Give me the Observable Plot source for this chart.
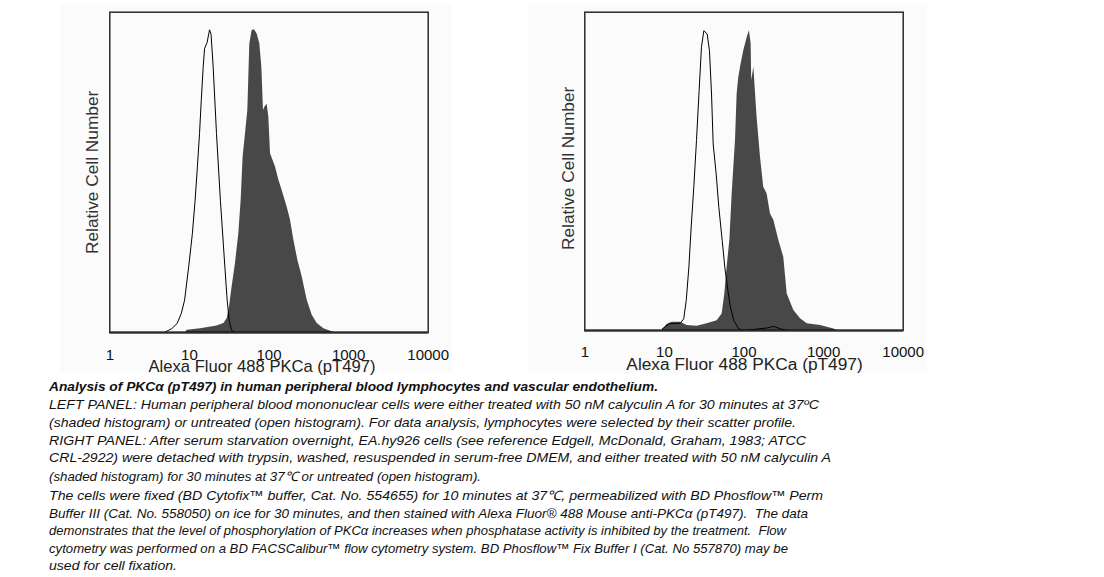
<!DOCTYPE html>
<html>
<head>
<meta charset="utf-8">
<script src="https://cdn.jsdelivr.net/npm/d3@7"></script>
<script src="https://cdn.jsdelivr.net/npm/@observablehq/plot@0.6"></script>
<style>
  body { margin: 0; background: #fff; }
  #wrap { position: relative; width: 1104px; height: 577px; overflow: hidden; background: #fff; }
  #left, #right { position: absolute; }
  #left { left: 60px; top: 4px; }
  #right { left: 528px; top: 5px; }
  .cap { position: absolute; left: 49px; font: italic 13px "Liberation Sans", Arial, sans-serif; line-height: 18px; color: #111; white-space: pre; transform-origin: 0 50%; }
  .cap.b { font-weight: bold; }
</style>
</head>
<body>
<div id="wrap">
  <div id="left"></div>
  <div id="right"></div>
  <div id="caption"></div>
</div>
<script>
// ---- data (fluorescence intensity, relative cell number as % of plot height) ----
const xTicks = [1, 10, 100, 1000, 10000];
const xLabel = "Alexa Fluor 488 PKCa (pT497)";
const yLabel = "Relative Cell Number";

// Left panel: human PBMC lymphocytes
const leftOpenX = [5.0, 6.0, 7.0, 7.9, 8.7, 9.8, 10.9, 11.8, 12.6, 13.4, 14.1, 14.9, 15.5, 16.7, 17.9, 18.7, 19.9, 21.9, 24.5, 27.9, 29.8, 31.6, 33.8, 37.9];
const leftOpenY = [0.2, 1.2, 2.8, 5.9, 10.1, 20.5, 30.9, 41.3, 51.7, 62.1, 72.5, 82.8, 88.6, 90.6, 94.5, 93.2, 82.8, 62.1, 41.3, 20.5, 10.1, 3.8, 0.7, 0];
const leftShadedX = [9.0, 9.4, 13.8, 22.3, 27.1, 29.8, 31.9, 34.4, 37.9, 41.8, 44.7, 47.3, 50.7, 54.2, 57.4, 61.4, 65.8, 71.0, 76.7, 81.3, 85.3, 88.7, 94.8, 99.5, 104.5, 120.7, 133, 146, 169, 186, 205, 230, 261, 302, 349, 403, 489, 622, 650];
const leftShadedY = [0, 0.7, 1.2, 2.0, 2.8, 4.3, 8.0, 14.2, 21.5, 30.9, 41.3, 54.8, 62.1, 69.3, 90.1, 94.3, 94.5, 93.2, 90.1, 82.8, 69.3, 70.3, 71.3, 67.2, 55.8, 51.7, 47.5, 44.4, 39.2, 35.1, 28.9, 22.6, 17.4, 10.1, 5.4, 2.8, 1.2, 0.2, 0];

// Right panel: EA.hy926 endothelial cells
const rightOpenX = [9.4, 11.4, 15.9, 17.5, 18.8, 20.3, 21.7, 23.4, 25.3, 27.3, 29.2, 31.3, 34.4, 36.8, 39.1, 41.0, 44.7, 48.3, 53.2, 57.4, 62.7, 67.6, 74.5, 86.1, 99.5, 195, 237, 288, 349];
const rightOpenY = [0.5, 2.1, 2.3, 3.7, 9.4, 19.9, 32.5, 45.0, 59.7, 75.4, 89.0, 94.2, 93.2, 88.0, 74.3, 58.6, 49.2, 38.7, 28.3, 19.9, 12.6, 7.3, 3.1, 0.5, 0, 0.8, 1.3, 0.5, 0];
const rightShadedX = [9.4, 10.8, 12.5, 15.9, 19.3, 25.8, 34.4, 46.0, 53.2, 57.4, 61.4, 66.4, 71.0, 78.2, 82.0, 86.1, 92.1, 99.5, 110, 117, 123, 125, 133, 138, 146, 161, 177, 195, 215, 237, 274, 316, 349, 423, 513, 622, 914, 1346, 1483];
const rightShadedY = [0, 1.9, 2.6, 2.6, 1.6, 1.3, 2.1, 3.1, 5.2, 11.5, 19.9, 28.3, 42.9, 59.7, 74.3, 79.6, 83.8, 88.0, 92.1, 94.2, 90.0, 78.5, 82.7, 76.4, 67.0, 54.5, 45.0, 43.0, 36.6, 34.6, 28.3, 23.0, 11.5, 6.3, 3.7, 2.1, 1.6, 0.5, 0];

const captionLines = [
  "Analysis of PKCα (pT497) in human peripheral blood lymphocytes and vascular endothelium.",
  "LEFT PANEL: Human peripheral blood mononuclear cells were either treated with 50 nM calyculin A for 30 minutes at 37ºC",
  "(shaded histogram) or untreated (open histogram). For data analysis, lymphocytes were selected by their scatter profile.",
  "RIGHT PANEL: After serum starvation overnight, EA.hy926 cells (see reference Edgell, McDonald, Graham, 1983; ATCC",
  "CRL-2922) were detached with trypsin, washed, resuspended in serum-free DMEM, and either treated with 50 nM calyculin A",
  "(shaded histogram) for 30 minutes at 37℃ or untreated (open histogram).",
  "The cells were fixed (BD Cytofix™ buffer, Cat. No. 554655) for 10 minutes at 37℃, permeabilized with BD Phosflow™ Perm",
  "Buffer III (Cat. No. 558050) on ice for 30 minutes, and then stained with Alexa Fluor® 488 Mouse anti-PKCα (pT497).  The data",
  "demonstrates that the level of phosphorylation of PKCα increases when phosphatase activity is inhibited by the treatment.  Flow",
  "cytometry was performed on a BD FACSCalibur™ flow cytometry system. BD Phosflow™ Fix Buffer I (Cat. No 557870) may be",
  "used for cell fixation."
];
// layout: baseline y and right end x of each caption line
const captionBaselines = [391.7, 409.3, 427.3, 445, 462.3, 481.7, 500.7, 518.3, 535.7, 553.3, 570.7];
const captionEnds = [658, 819, 796, 806, 831, 481, 823, 808, 786, 788, 177];

const zip = (xs, ys) => xs.map((x, i) => ({x, y: ys[i]}));

function panel({open, shaded, width, height, mL, mR, mT, mB, tickPad, xdx, xdy, xfs, ydx, ydy}) {
  return Plot.plot({
    width, height,
    marginLeft: mL, marginRight: mR, marginTop: mT, marginBottom: mB,
    x: {type: "log", domain: [1, 10000]},
    y: {domain: [0, 100], axis: null},
    style: {background: "#fbfbfb", fontFamily: "'Liberation Sans', Arial, sans-serif", fontSize: "15px", color: "#111", overflow: "visible"},
    marks: [
      Plot.areaY(shaded, {x: "x", y: "y", fill: "#484848"}),
      Plot.lineY(open, {x: "x", y: "y", stroke: "#000", strokeWidth: 1}),
      Plot.ruleY([0], {stroke: "#000", strokeWidth: 2}),
      Plot.frame({stroke: "#2b2b2b", strokeWidth: 1.5}),
      Plot.axisX(xTicks, {tickSize: 0, tickPadding: tickPad, tickFormat: d3.format("d"), fontSize: 15, fill: "#111", label: null}),
      Plot.text([xLabel], {frameAnchor: "bottom", lineAnchor: "bottom", dx: xdx, dy: xdy, fontSize: xfs, fill: "#222"}),
      Plot.text([yLabel], {frameAnchor: "left", textAnchor: "middle", rotate: -90, dx: ydx, dy: ydy, fontSize: 17.3, fill: "#333"})
    ]
  });
}

document.getElementById("left").append(panel({
  open: zip(leftOpenX, leftOpenY), shaded: zip(leftShadedX, leftShadedY),
  width: 392, height: 369, mL: 49.3, mR: 24.3, mT: 7.7, mB: 41,
  tickPad: 17, xdx: -7, xdy: 39, xfs: 16.6, ydx: -17, ydy: 0
}));
document.getElementById("right").append(panel({
  open: zip(rightOpenX, rightOpenY), shaded: zip(rightShadedX, rightShadedY),
  width: 399, height: 368, mL: 56.3, mR: 24.3, mT: 6.7, mB: 43,
  tickPad: 16, xdx: 0.5, xdy: 39, xfs: 17.3, ydx: -16, ydy: -3
}));

const cap = document.getElementById("caption");
captionLines.forEach((t, i) => {
  const d = document.createElement("div");
  d.className = "cap" + (i === 0 ? " b" : "");
  d.style.top = (captionBaselines[i] - 13.5) + "px";
  d.textContent = t;
  cap.append(d);
  const w = d.getBoundingClientRect().width;
  const target = captionEnds[i] - 49;
  if (w > 0) d.style.transform = `scaleX(${target / w})`;
});
</script>
</body>
</html>
